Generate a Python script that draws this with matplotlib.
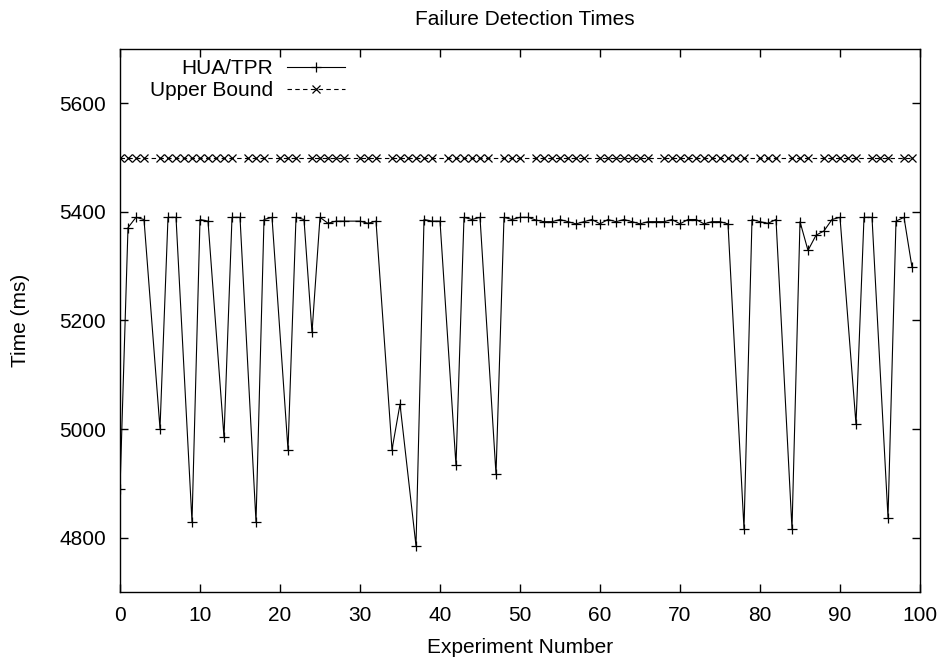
import numpy as np
import matplotlib; matplotlib.use("Agg")
import matplotlib.pyplot as plt

# HUA/TPR measured detection times (ms); some experiment numbers have no point
hua_x = [0, 1, 2, 3, 5, 6, 7, 9, 10, 11, 13, 14, 15, 17, 18, 19, 21, 22, 23, 24,
         25, 26, 27, 28, 30, 31, 32, 34, 35, 37, 38, 39, 40, 42, 43, 44, 45, 47,
         48, 49, 50, 51, 52, 53, 54, 55, 56, 57, 58, 59, 60, 61, 62, 63, 64, 65,
         66, 67, 68, 69, 70, 71, 72, 73, 74, 75, 76, 78, 79, 80, 81, 82, 84, 85,
         86, 87, 88, 89, 90, 92, 93, 94, 96, 97, 98, 99]
hua_y = [4890, 5371, 5390, 5386, 5001, 5390, 5390, 4829, 5386, 5383, 4985, 5390,
         5390, 4829, 5386, 5390, 4962, 5390, 5386, 5178, 5390, 5379, 5383, 5383,
         5383, 5379, 5383, 4962, 5046, 4785, 5386, 5383, 5383, 4933, 5390, 5386,
         5390, 4917, 5390, 5386, 5390, 5390, 5385, 5382, 5382, 5386, 5382, 5378,
         5382, 5386, 5378, 5386, 5382, 5386, 5382, 5378, 5382, 5382, 5382, 5386,
         5378, 5386, 5386, 5378, 5382, 5382, 5378, 4816, 5386, 5382, 5379, 5386,
         4816, 5382, 5329, 5357, 5365, 5386, 5390, 5009, 5390, 5390, 4837, 5383,
         5390, 5298]

# upper bound (constant), missing at a few experiment numbers
ub_gaps = [4, 15, 19, 23, 29, 33, 40, 47, 51, 59, 67, 79, 83, 87, 93, 97]
ub_x = [i for i in range(100) if i not in ub_gaps]
ub_y = [5500] * len(ub_x)

plt.rcParams.update({"font.family": ["Liberation Sans", "DejaVu Sans"],
                     "font.size": 15})
W, H = 947, 660
fig = plt.figure(figsize=(W/100, H/100), dpi=100)
ax = fig.add_axes([120/W, 68/H, 800/W, 543/H])

ax.plot(hua_x, hua_y, color="black", lw=0.8, marker="+", ms=7, mew=0.9,
        label="HUA/TPR")
ax.plot(ub_x, ub_y, color="black", lw=0.8, ls=(0, (4, 3)), marker="x", ms=5.5,
        mew=0.9, label="Upper Bound")

ax.set_xlim(0, 100); ax.set_ylim(4700, 5700)
ax.set_xticks(np.arange(0, 101, 10))
ax.set_yticks(np.arange(4800, 5601, 200))
ax.tick_params(direction="in", length=6, width=1, top=True, right=True, pad=10)
for s in ax.spines.values():
    s.set_linewidth(1.0)

ax.set_xlabel("Experiment Number")
ax.xaxis.set_label_coords(0.5, -(638 - 592)/543)
ax.set_ylabel("Time (ms)")
ax.yaxis.set_label_coords(-(120 - 30)/800, 0.5)
fig.text(525/W, 1 - 25/H, "Failure Detection Times", ha="center", va="baseline")

leg = ax.legend(loc="upper right", markerfirst=False, frameon=False,
                handlelength=2.8, handletextpad=0.65, labelspacing=0.15,
                borderpad=0, borderaxespad=0,
                bbox_to_anchor=(345/W, 1 - 59/H), bbox_transform=fig.transFigure)

fig.savefig("out.png")
